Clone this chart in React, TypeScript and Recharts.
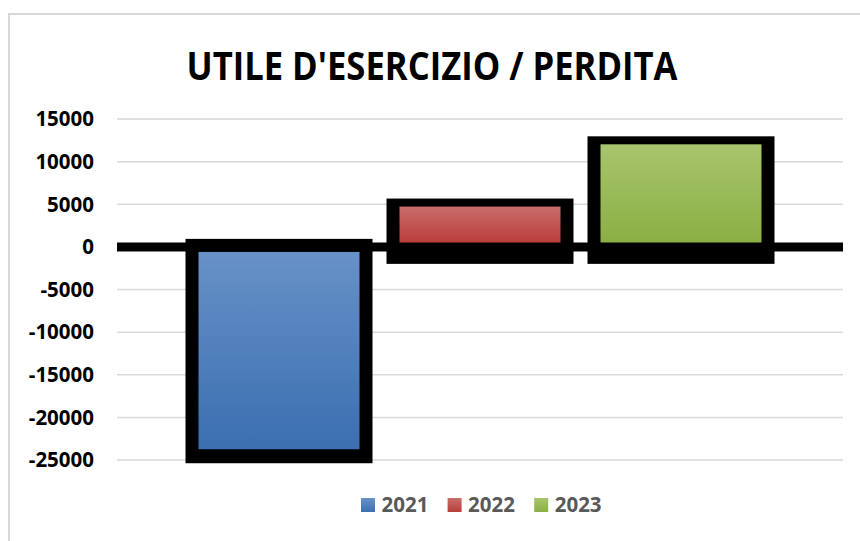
import React from 'react';
import { BarChart, Bar, XAxis, YAxis, CartesianGrid, ReferenceLine } from 'recharts';

const titleText = "UTILE D'ESERCIZIO / PERDITA";
const years = ['2021', '2022', '2023'];
const values = [-24500, 5200, 12500];
const colorsTop = ['#6791c7', '#c96d6b', '#a7c56d'];
const colorsBottom = ['#3b6fb1', '#b93c39', '#8baf43'];
const yTicks = [-25000, -20000, -15000, -10000, -5000, 0, 5000, 10000, 15000];

const row: Record<string, any> = { name: '' };
years.forEach((y, i) => {
  row[y] = values[i];
});
const data = [row];

const FONT = '"Open Sans", "Noto Sans", sans-serif';

function makeShape(idx: number) {
  const neg = values[idx] < 0;
  return (p: any) => {
    const { x, y, width, height } = p;
    const y1 = Math.min(y, y + height);
    const y2 = Math.max(y, y + height);
    const h = y2 - y1;
    if (!neg) {
      return (
        <g>
          <rect x={x - 6.5} y={y1 - 4} width={width + 13} height={h + 21} fill="#000" />
          <rect x={x + 6.5} y={y1 + 4} width={width - 13} height={Math.max(0, h - 7)} fill={`url(#grad${idx})`} />
        </g>
      );
    }
    return (
      <g>
        <rect x={x - 6.5} y={y1 - 8} width={width + 13} height={h + 15.5} fill="#000" />
        <rect x={x + 6.5} y={y1 + 5} width={width - 13} height={Math.max(0, h - 11.5)} fill={`url(#grad${idx})`} />
      </g>
    );
  };
}

export default function App() {
  return (
    <div style={{ position: 'absolute', left: 0, top: 0, width: 860, height: 541, background: '#fff', overflow: 'hidden' }}>
      <div
        style={{
          position: 'absolute',
          left: 8,
          top: 13,
          width: 900,
          height: 600,
          borderLeft: '2px solid #d9d9d9',
          borderTop: '2px solid #d9d9d9',
          boxSizing: 'border-box',
        }}
      />
      <div style={{ position: 'absolute', left: 0, top: 0 }}>
        <BarChart
          width={860}
          height={541}
          data={data}
          margin={{ top: 119, right: 17, bottom: 81, left: 0 }}
          barSize={174}
          barGap={27}
        >
          <defs>
            {years.map((y, i) => (
              <linearGradient key={y} id={`grad${i}`} x1="0" y1="0" x2="0" y2="1">
                <stop offset="0%" stopColor={colorsTop[i]} />
                <stop offset="100%" stopColor={colorsBottom[i]} />
              </linearGradient>
            ))}
          </defs>
          <CartesianGrid vertical={false} stroke="#d9d9d9" strokeWidth={1.5} />
          <XAxis dataKey="name" hide />
          <YAxis
            type="number"
            domain={[-25000, 15000]}
            ticks={yTicks}
            interval={0}
            width={117}
            axisLine={false}
            tickLine={false}
            tickSize={0}
            tickMargin={23}
            tick={{ fill: '#000', fontSize: 20.5, fontWeight: 700, fontFamily: FONT }}
          />
          {years.map((y, i) => (
            <Bar key={y} dataKey={y} fill={colorsBottom[i]} isAnimationActive={false} shape={makeShape(i)} />
          ))}
          <ReferenceLine y={0} stroke="#000" strokeWidth={9} />
        </BarChart>
      </div>
      <svg width={860} height={541} style={{ position: 'absolute', left: 0, top: 0, pointerEvents: 'none' }}>
        <defs>
          {years.map((y, i) => (
            <linearGradient key={y} id={`lgrad${i}`} x1="0" y1="0" x2="0" y2="1">
              <stop offset="0%" stopColor={colorsTop[i]} />
              <stop offset="100%" stopColor={colorsBottom[i]} />
            </linearGradient>
          ))}
        </defs>
        <text
          x={432}
          y={80}
          textAnchor="middle"
          fontFamily={FONT}
          fontWeight={700}
          fontSize={39}
          fill="#000"
          textLength={491}
          lengthAdjust="spacingAndGlyphs"
        >
          {titleText}
        </text>
        {years.map((y, i) => {
          const sx = 361 + i * 86.6;
          return (
            <g key={y}>
              <rect x={sx} y={498} width={14} height={14} fill={`url(#lgrad${i})`} />
              <text x={sx + 20.5} y={512} fontFamily={FONT} fontWeight={700} fontSize={20.5} fill="#595959">
                {y}
              </text>
            </g>
          );
        })}
      </svg>
    </div>
  );
}
